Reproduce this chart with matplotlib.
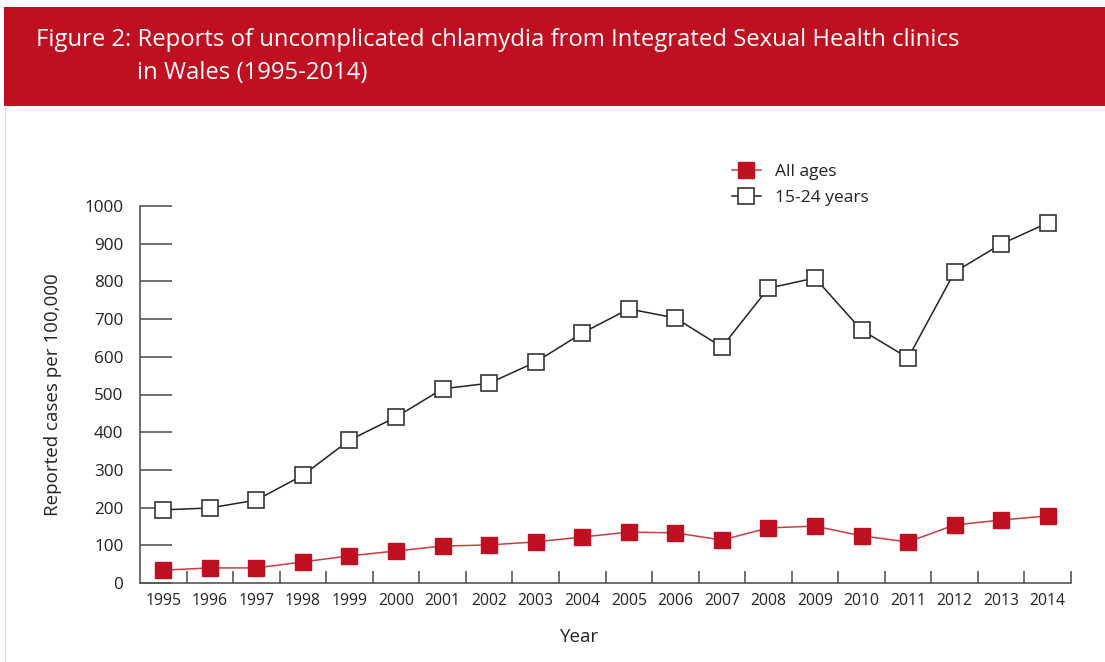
import numpy as np
import matplotlib
matplotlib.use('Agg')
import matplotlib.pyplot as plt
from matplotlib.patches import Rectangle
from matplotlib.lines import Line2D

plt.rcParams['font.family'] = ['Open Sans', 'DejaVu Sans']

years = ['1995', '1996', '1997', '1998', '1999', '2000', '2001', '2002', '2003', '2004',
         '2005', '2006', '2007', '2008', '2009', '2010', '2011', '2012', '2013', '2014']
all_ages = [34, 40, 40, 56, 72, 85, 98, 101, 109, 122,
            135, 133, 114, 146, 151, 125, 109, 154, 167, 178]
age_15_24 = [194, 199, 220, 286, 379, 440, 515, 530, 586, 663,
             727, 703, 626, 782, 809, 671, 597, 825, 899, 955]
y_ticks = [0, 100, 200, 300, 400, 500, 600, 700, 800, 900, 1000]

red = '#BE1020'
line_red = '#CC3A44'
axis_col = '#555555'
txt = '#222222'

W, H = 1105, 662
fig = plt.figure(figsize=(W / 100, H / 100), dpi=100)

# title banner
fig.patches.append(Rectangle((4 / W, 1 - 106 / H), 1 - 4 / W, 99 / H,
                             transform=fig.transFigure, facecolor=red, edgecolor='none'))
fig.lines.append(Line2D([4.5 / W, 4.5 / W], [0, 1 - 106 / H], transform=fig.transFigure,
                        color='#dddddd', lw=1))
fig.text(36 / W, 1 - 40 / H,
         'Figure 2: Reports of uncomplicated chlamydia from Integrated Sexual Health clinics',
         color='white', fontsize=17.2, va='center', ha='left')
fig.text(137 / W, 1 - 73 / H, 'in Wales (1995-2014)',
         color='white', fontsize=17.2, va='center', ha='left')

ax = fig.add_axes([140 / W, 1 - 583 / H, 931 / W, 377 / H])
x = np.arange(len(years))

ax.plot(x, all_ages, color=line_red, lw=1.1, marker='s', markersize=12,
        markerfacecolor=red, markeredgecolor=red, label='All ages', zorder=3)
ax.plot(x, age_15_24, color='#222222', lw=1.1, marker='s', markersize=11.5,
        markerfacecolor='white', markeredgecolor='#333333', markeredgewidth=1.2,
        label='15-24 years', zorder=3)

ax.set_xlim(-0.5, len(years) - 0.5)
ax.set_ylim(0, 1000)
ax.set_xticks(x)
ax.set_xticklabels(years)
ax.set_xticks(np.arange(0.5, len(years)), minor=True)
ax.tick_params(axis='x', which='major', length=0, pad=7, labelsize=11.3, labelcolor=txt)
ax.tick_params(axis='x', which='minor', direction='in', length=9, width=1.2, color=axis_col)
ax.set_yticks(y_ticks)
ax.tick_params(axis='y', direction='in', length=23, width=1.2, color=axis_col,
               pad=12, labelsize=12.3, labelcolor=txt)

for s in ['top', 'right']:
    ax.spines[s].set_visible(False)
for s in ['left', 'bottom']:
    ax.spines[s].set_color(axis_col)
    ax.spines[s].set_linewidth(1.2)

ax.set_xlabel('Year', fontsize=13.5, color=txt)
ax.xaxis.set_label_coords((580 - 140) / 931, -(637 - 583) / 377)
ax.xaxis.label.set_va('center')
ax.set_ylabel('Reported cases per 100,000', fontsize=13.5, color=txt, labelpad=16)

ax.legend(loc='upper left', bbox_to_anchor=(723 / W, 1 - 155 / H),
          bbox_transform=fig.transFigure, frameon=False, fontsize=12.5,
          handlelength=1.7, handletextpad=0.8, labelspacing=0.6, borderpad=0,
          labelcolor=txt)

fig.savefig('out.png', dpi=100, facecolor='white')
